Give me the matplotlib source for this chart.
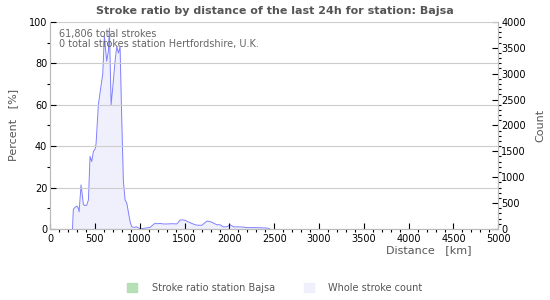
import numpy as np
import matplotlib.pyplot as plt
from matplotlib.patches import Patch

# distance (km) and whole stroke count
distance = [250, 260, 280, 300, 315, 324, 346, 372, 390, 410, 428, 446, 465,
            484, 502, 513, 539, 565, 588, 606, 632, 651, 662, 681, 699, 725,
            744, 763, 781, 800, 818, 837, 856, 874, 893, 911, 940, 967, 1004,
            1116, 1172, 1190, 1230, 1265, 1302, 1360, 1414, 1451, 1480, 1507,
            1525, 1562, 1618, 1655, 1693, 1749, 1775, 1804, 1860, 1897, 1931,
            1972, 2009, 2045, 2100, 2157, 2190, 2280, 2380, 2430, 2450]
count = [0, 380, 420, 440, 400, 330, 850, 470, 450, 460, 560, 1400, 1300,
         1500, 1540, 1640, 2400, 2720, 3000, 3720, 3240, 3440, 3880, 2400, 2720,
         3240, 3520, 3400, 3520, 2080, 920, 560, 500, 320, 140, 40, 30, 40, 0,
         30, 110, 100, 105, 95, 95, 100, 95, 170, 175, 165, 150, 120, 80, 70,
         70, 150, 145, 130, 80, 80, 40, 40, 80, 40, 40, 35, 25, 25, 20, 15, 0]
# stroke ratio of the station (%) - nothing from this station
ratio = [0] * len(distance)

title = 'Stroke ratio by distance of the last 24h for station: Bajsa'
info = '61,806 total strokes\n0 total strokes station Hertfordshire, U.K.'

plt.rcParams['font.family'] = 'DejaVu Sans'
fs = 7

fig = plt.figure(figsize=(5.5, 3), dpi=100)
ax = fig.add_axes([0.091, 0.237, 0.815, 0.690])
ax2 = ax.twinx()

# stroke count on the right axis
ax2.fill_between(distance, count, color='#f0f0fd', lw=0)
ax2.plot(distance, count, color='#8080ff', lw=0.7)
ax2.set_ylim(0, 4000)
ax2.set_yticks(np.arange(0, 4001, 500))
ax2.set_yticks(np.arange(0, 4001, 100), minor=True)
ax2.set_ylabel('Count', fontsize=8, color='#555555')
ax2.yaxis.set_label_coords(1.082, 0.5)

# ratio on the left axis
ax.fill_between(distance, ratio, color='#b5e0b5', lw=0)
ax.set_xlim(0, 5000)
ax.set_ylim(0, 100)
ax.set_xticks(np.arange(0, 5001, 500))
ax.set_xticks(np.arange(0, 5001, 100), minor=True)
ax.set_yticks(np.arange(0, 101, 20))
ax.set_yticks(np.arange(0, 101, 10), minor=True)
ax.grid(axis='y', color='#cccccc', lw=0.8)
ax.set_axisbelow(True)
ax.set_ylabel('Percent   [%]', fontsize=8, color='#555555')
ax.yaxis.set_label_coords(-0.072, 0.5)
ax.set_xlabel('Distance   [km]', fontsize=8, color='#555555')
ax.xaxis.label.set_horizontalalignment('right')
ax.xaxis.set_label_coords(0.94, -0.08)

for a in (ax, ax2):
    a.tick_params(labelsize=fs, length=4, width=0.8, pad=2)
    a.tick_params(which='minor', length=2, width=0.8)
    for s in a.spines.values():
        s.set_color('#bbbbbb')
    a.spines['top'].set_visible(False)
ax.tick_params(axis='x', direction='in', pad=4)
ax.tick_params(axis='y', direction='in')
ax2.tick_params(axis='y', direction='in')
ax.set_zorder(ax2.get_zorder() + 1)
ax.patch.set_visible(False)

ax.text(0.02, 0.965, info, transform=ax.transAxes, va='top', ha='left',
        fontsize=7, color='#666666', linespacing=1.0)
fig.text(0.5, 0.955, title, ha='center', fontsize=8, fontweight='bold',
         color='#555555')

handles = [Patch(color='#b5e0b5', label='Stroke ratio station Bajsa'),
           Patch(color='#f0f0fd', label='Whole stroke count')]
leg = fig.legend(handles=handles, loc='center', bbox_to_anchor=(0.5, 0.04),
                 ncol=2, frameon=False, fontsize=7, handlelength=1.0,
                 handleheight=1.0, columnspacing=3.0, handletextpad=1.5)
for t in leg.get_texts():
    t.set_color('#555555')

fig.savefig('out.png', dpi=100)
